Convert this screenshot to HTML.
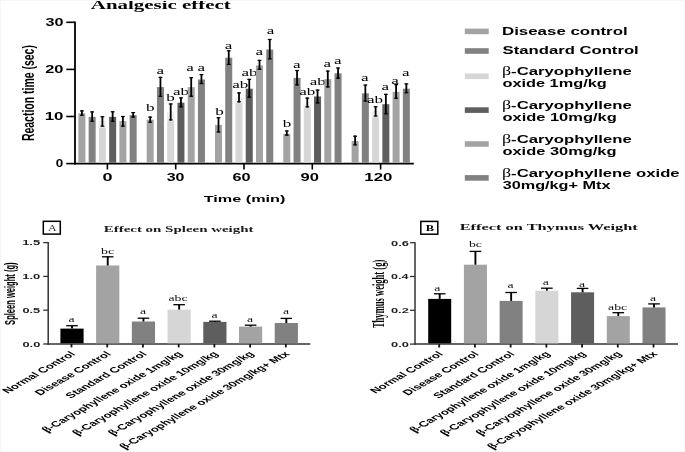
<!DOCTYPE html>
<html><head><meta charset="utf-8"><style>
html,body{margin:0;padding:0;background:#fff;}
svg{display:block;filter:blur(0.35px);}
</style></head><body>
<svg width="685" height="452" viewBox="0 0 685 452">
<rect x="0" y="0" width="685" height="452" fill="#fff"/>
<line x1="75.00" y1="21.50" x2="75.00" y2="164.50" stroke="#000" stroke-width="1.8"/>
<line x1="74.10" y1="163.60" x2="413.80" y2="163.60" stroke="#000" stroke-width="1.8"/>
<line x1="66.30" y1="163.60" x2="75.00" y2="163.60" stroke="#000" stroke-width="1.6"/>
<line x1="66.30" y1="116.50" x2="75.00" y2="116.50" stroke="#000" stroke-width="1.6"/>
<line x1="66.30" y1="69.40" x2="75.00" y2="69.40" stroke="#000" stroke-width="1.6"/>
<line x1="66.30" y1="22.30" x2="75.00" y2="22.30" stroke="#000" stroke-width="1.6"/>
<text x="55.86" y="167.40" font-family='"Liberation Sans", sans-serif' font-weight="bold" font-size="10.04" textLength="7.49" lengthAdjust="spacingAndGlyphs" fill="#000">0</text>
<text x="44.75" y="120.30" font-family='"Liberation Sans", sans-serif' font-weight="bold" font-size="10.04" textLength="18.77" lengthAdjust="spacingAndGlyphs" fill="#000">10</text>
<text x="45.23" y="73.20" font-family='"Liberation Sans", sans-serif' font-weight="bold" font-size="10.04" textLength="18.27" lengthAdjust="spacingAndGlyphs" fill="#000">20</text>
<text x="45.43" y="26.10" font-family='"Liberation Sans", sans-serif' font-weight="bold" font-size="10.04" textLength="18.05" lengthAdjust="spacingAndGlyphs" fill="#000">30</text>
<line x1="107.40" y1="163.60" x2="107.40" y2="169.50" stroke="#000" stroke-width="1.6"/>
<text x="102.58" y="181.20" font-family='"Liberation Sans", sans-serif' font-weight="bold" font-size="10.04" textLength="10.07" lengthAdjust="spacingAndGlyphs" fill="#000">0</text>
<line x1="175.70" y1="163.60" x2="175.70" y2="169.50" stroke="#000" stroke-width="1.6"/>
<text x="166.74" y="181.20" font-family='"Liberation Sans", sans-serif' font-weight="bold" font-size="10.04" textLength="17.73" lengthAdjust="spacingAndGlyphs" fill="#000">30</text>
<line x1="244.00" y1="163.60" x2="244.00" y2="169.50" stroke="#000" stroke-width="1.6"/>
<text x="232.49" y="181.20" font-family='"Liberation Sans", sans-serif' font-weight="bold" font-size="10.04" textLength="18.10" lengthAdjust="spacingAndGlyphs" fill="#000">60</text>
<line x1="312.30" y1="163.60" x2="312.30" y2="169.50" stroke="#000" stroke-width="1.6"/>
<text x="300.62" y="181.20" font-family='"Liberation Sans", sans-serif' font-weight="bold" font-size="10.04" textLength="18.38" lengthAdjust="spacingAndGlyphs" fill="#000">90</text>
<line x1="380.60" y1="163.60" x2="380.60" y2="169.50" stroke="#000" stroke-width="1.6"/>
<text x="364.35" y="181.20" font-family='"Liberation Sans", sans-serif' font-weight="bold" font-size="10.04" textLength="28.04" lengthAdjust="spacingAndGlyphs" fill="#000">120</text>
<text x="203.74" y="201.90" font-family='"Liberation Sans", sans-serif' font-weight="bold" font-size="9.66" textLength="81.68" lengthAdjust="spacingAndGlyphs" fill="#000">Time (min)</text>
<text x="90.89" y="9.10" font-family='"Liberation Serif", serif' font-weight="bold" font-size="11.63" textLength="139.89" lengthAdjust="spacingAndGlyphs" fill="#000">Analgesic effect</text>
<text transform="translate(34.40,141.10) scale(1.58,1) rotate(-90)" text-anchor="start" font-family='"Liberation Sans", sans-serif' font-weight="bold" font-size="10.50" textLength="96.00" lengthAdjust="spacingAndGlyphs" fill="#000">Reaction time (sec)</text>
<rect x="78.40" y="113.30" width="7.00" height="49.40" fill="#a3a3a3"/>
<line x1="81.90" y1="110.30" x2="81.90" y2="115.90" stroke="#000" stroke-width="1.8"/>
<line x1="80.00" y1="110.90" x2="83.80" y2="110.90" stroke="#000" stroke-width="1.2"/>
<line x1="80.00" y1="115.30" x2="83.80" y2="115.30" stroke="#000" stroke-width="1.2"/>
<rect x="88.65" y="116.90" width="7.00" height="45.80" fill="#818181"/>
<line x1="92.15" y1="111.30" x2="92.15" y2="121.90" stroke="#000" stroke-width="1.8"/>
<line x1="90.25" y1="111.90" x2="94.05" y2="111.90" stroke="#000" stroke-width="1.2"/>
<line x1="90.25" y1="121.30" x2="94.05" y2="121.30" stroke="#000" stroke-width="1.2"/>
<rect x="98.90" y="121.20" width="7.00" height="41.50" fill="#d6d6d6"/>
<rect x="98.90" y="121.20" width="7.00" height="6.30" fill="#f1f1f1"/>
<line x1="102.40" y1="116.10" x2="102.40" y2="126.70" stroke="#000" stroke-width="1.8"/>
<line x1="100.50" y1="116.70" x2="104.30" y2="116.70" stroke="#000" stroke-width="1.2"/>
<line x1="100.50" y1="126.10" x2="104.30" y2="126.10" stroke="#000" stroke-width="1.2"/>
<rect x="109.15" y="116.90" width="7.00" height="45.80" fill="#5e5e5e"/>
<line x1="112.65" y1="111.20" x2="112.65" y2="121.90" stroke="#000" stroke-width="1.8"/>
<line x1="110.75" y1="111.80" x2="114.55" y2="111.80" stroke="#000" stroke-width="1.2"/>
<line x1="110.75" y1="121.30" x2="114.55" y2="121.30" stroke="#000" stroke-width="1.2"/>
<rect x="119.40" y="121.10" width="7.00" height="41.60" fill="#a3a3a3"/>
<line x1="122.90" y1="115.90" x2="122.90" y2="126.70" stroke="#000" stroke-width="1.8"/>
<line x1="121.00" y1="116.50" x2="124.80" y2="116.50" stroke="#000" stroke-width="1.2"/>
<line x1="121.00" y1="126.10" x2="124.80" y2="126.10" stroke="#000" stroke-width="1.2"/>
<rect x="129.65" y="115.10" width="7.00" height="47.60" fill="#818181"/>
<line x1="133.15" y1="112.00" x2="133.15" y2="117.60" stroke="#000" stroke-width="1.8"/>
<line x1="131.25" y1="112.60" x2="135.05" y2="112.60" stroke="#000" stroke-width="1.2"/>
<line x1="131.25" y1="117.00" x2="135.05" y2="117.00" stroke="#000" stroke-width="1.2"/>
<rect x="146.70" y="119.70" width="7.00" height="43.00" fill="#a3a3a3"/>
<line x1="150.20" y1="116.50" x2="150.20" y2="122.80" stroke="#000" stroke-width="1.8"/>
<line x1="148.30" y1="117.10" x2="152.10" y2="117.10" stroke="#000" stroke-width="1.2"/>
<line x1="148.30" y1="122.20" x2="152.10" y2="122.20" stroke="#000" stroke-width="1.2"/>
<text x="146.07" y="111.30" font-family='"Liberation Serif", serif' font-weight="normal" font-size="10.00" textLength="8.50" lengthAdjust="spacingAndGlyphs" fill="#000">b</text>
<rect x="156.95" y="87.10" width="7.00" height="75.60" fill="#818181"/>
<line x1="160.45" y1="76.80" x2="160.45" y2="96.90" stroke="#000" stroke-width="1.8"/>
<line x1="158.55" y1="77.40" x2="162.35" y2="77.40" stroke="#000" stroke-width="1.2"/>
<line x1="158.55" y1="96.30" x2="162.35" y2="96.30" stroke="#000" stroke-width="1.2"/>
<text x="156.55" y="74.10" font-family='"Liberation Serif", serif' font-weight="normal" font-size="10.00" textLength="7.55" lengthAdjust="spacingAndGlyphs" fill="#000">a</text>
<rect x="167.20" y="112.00" width="7.00" height="50.70" fill="#d6d6d6"/>
<rect x="167.20" y="112.00" width="7.00" height="9.30" fill="#f1f1f1"/>
<line x1="170.70" y1="103.40" x2="170.70" y2="120.50" stroke="#000" stroke-width="1.8"/>
<line x1="168.80" y1="104.00" x2="172.60" y2="104.00" stroke="#000" stroke-width="1.2"/>
<line x1="168.80" y1="119.90" x2="172.60" y2="119.90" stroke="#000" stroke-width="1.2"/>
<text x="166.17" y="100.70" font-family='"Liberation Serif", serif' font-weight="normal" font-size="10.00" textLength="8.50" lengthAdjust="spacingAndGlyphs" fill="#000">b</text>
<rect x="177.45" y="102.70" width="7.00" height="60.00" fill="#5e5e5e"/>
<line x1="180.95" y1="97.30" x2="180.95" y2="107.40" stroke="#000" stroke-width="1.8"/>
<line x1="179.05" y1="97.90" x2="182.85" y2="97.90" stroke="#000" stroke-width="1.2"/>
<line x1="179.05" y1="106.80" x2="182.85" y2="106.80" stroke="#000" stroke-width="1.2"/>
<text x="173.09" y="94.70" font-family='"Liberation Serif", serif' font-weight="normal" font-size="10.00" textLength="16.05" lengthAdjust="spacingAndGlyphs" fill="#000">ab</text>
<rect x="187.70" y="87.20" width="7.00" height="75.50" fill="#a3a3a3"/>
<line x1="191.20" y1="77.10" x2="191.20" y2="96.80" stroke="#000" stroke-width="1.8"/>
<line x1="189.30" y1="77.70" x2="193.10" y2="77.70" stroke="#000" stroke-width="1.2"/>
<line x1="189.30" y1="96.20" x2="193.10" y2="96.20" stroke="#000" stroke-width="1.2"/>
<text x="186.25" y="70.60" font-family='"Liberation Serif", serif' font-weight="normal" font-size="10.00" textLength="7.55" lengthAdjust="spacingAndGlyphs" fill="#000">a</text>
<rect x="197.95" y="79.50" width="7.00" height="83.20" fill="#818181"/>
<line x1="201.45" y1="74.00" x2="201.45" y2="84.10" stroke="#000" stroke-width="1.8"/>
<line x1="199.55" y1="74.60" x2="203.35" y2="74.60" stroke="#000" stroke-width="1.2"/>
<line x1="199.55" y1="83.50" x2="203.35" y2="83.50" stroke="#000" stroke-width="1.2"/>
<text x="197.55" y="70.70" font-family='"Liberation Serif", serif' font-weight="normal" font-size="10.00" textLength="7.55" lengthAdjust="spacingAndGlyphs" fill="#000">a</text>
<rect x="215.00" y="124.90" width="7.00" height="37.80" fill="#a3a3a3"/>
<line x1="218.50" y1="117.10" x2="218.50" y2="132.60" stroke="#000" stroke-width="1.8"/>
<line x1="216.60" y1="117.70" x2="220.40" y2="117.70" stroke="#000" stroke-width="1.2"/>
<line x1="216.60" y1="132.00" x2="220.40" y2="132.00" stroke="#000" stroke-width="1.2"/>
<text x="215.27" y="114.80" font-family='"Liberation Serif", serif' font-weight="normal" font-size="10.00" textLength="8.50" lengthAdjust="spacingAndGlyphs" fill="#000">b</text>
<rect x="225.25" y="57.70" width="7.00" height="105.00" fill="#818181"/>
<line x1="228.75" y1="50.20" x2="228.75" y2="65.00" stroke="#000" stroke-width="1.8"/>
<line x1="226.85" y1="50.80" x2="230.65" y2="50.80" stroke="#000" stroke-width="1.2"/>
<line x1="226.85" y1="64.40" x2="230.65" y2="64.40" stroke="#000" stroke-width="1.2"/>
<text x="224.65" y="48.70" font-family='"Liberation Serif", serif' font-weight="normal" font-size="10.00" textLength="7.55" lengthAdjust="spacingAndGlyphs" fill="#000">a</text>
<rect x="235.50" y="97.80" width="7.00" height="64.90" fill="#d6d6d6"/>
<rect x="235.50" y="97.80" width="7.00" height="5.40" fill="#f1f1f1"/>
<line x1="239.00" y1="92.30" x2="239.00" y2="102.40" stroke="#000" stroke-width="1.8"/>
<line x1="237.10" y1="92.90" x2="240.90" y2="92.90" stroke="#000" stroke-width="1.2"/>
<line x1="237.10" y1="101.80" x2="240.90" y2="101.80" stroke="#000" stroke-width="1.2"/>
<text x="232.19" y="88.40" font-family='"Liberation Serif", serif' font-weight="normal" font-size="10.00" textLength="16.05" lengthAdjust="spacingAndGlyphs" fill="#000">ab</text>
<rect x="245.75" y="88.70" width="7.00" height="74.00" fill="#5e5e5e"/>
<line x1="249.25" y1="78.80" x2="249.25" y2="97.70" stroke="#000" stroke-width="1.8"/>
<line x1="247.35" y1="79.40" x2="251.15" y2="79.40" stroke="#000" stroke-width="1.2"/>
<line x1="247.35" y1="97.10" x2="251.15" y2="97.10" stroke="#000" stroke-width="1.2"/>
<text x="241.59" y="75.90" font-family='"Liberation Serif", serif' font-weight="normal" font-size="10.00" textLength="16.05" lengthAdjust="spacingAndGlyphs" fill="#000">ab</text>
<rect x="256.00" y="65.40" width="7.00" height="97.30" fill="#a3a3a3"/>
<line x1="259.50" y1="59.80" x2="259.50" y2="69.80" stroke="#000" stroke-width="1.8"/>
<line x1="257.60" y1="60.40" x2="261.40" y2="60.40" stroke="#000" stroke-width="1.2"/>
<line x1="257.60" y1="69.20" x2="261.40" y2="69.20" stroke="#000" stroke-width="1.2"/>
<text x="255.55" y="55.20" font-family='"Liberation Serif", serif' font-weight="normal" font-size="10.00" textLength="7.55" lengthAdjust="spacingAndGlyphs" fill="#000">a</text>
<rect x="266.25" y="49.50" width="7.00" height="113.20" fill="#818181"/>
<line x1="269.75" y1="38.90" x2="269.75" y2="59.40" stroke="#000" stroke-width="1.8"/>
<line x1="267.85" y1="39.50" x2="271.65" y2="39.50" stroke="#000" stroke-width="1.2"/>
<line x1="267.85" y1="58.80" x2="271.65" y2="58.80" stroke="#000" stroke-width="1.2"/>
<text x="266.85" y="33.70" font-family='"Liberation Serif", serif' font-weight="normal" font-size="10.00" textLength="7.55" lengthAdjust="spacingAndGlyphs" fill="#000">a</text>
<rect x="283.30" y="133.90" width="7.00" height="28.80" fill="#a3a3a3"/>
<line x1="286.80" y1="130.40" x2="286.80" y2="135.70" stroke="#000" stroke-width="1.8"/>
<line x1="284.90" y1="131.00" x2="288.70" y2="131.00" stroke="#000" stroke-width="1.2"/>
<line x1="284.90" y1="135.10" x2="288.70" y2="135.10" stroke="#000" stroke-width="1.2"/>
<text x="282.87" y="127.20" font-family='"Liberation Serif", serif' font-weight="normal" font-size="10.00" textLength="8.50" lengthAdjust="spacingAndGlyphs" fill="#000">b</text>
<rect x="293.55" y="77.90" width="7.00" height="84.80" fill="#818181"/>
<line x1="297.05" y1="69.90" x2="297.05" y2="85.40" stroke="#000" stroke-width="1.8"/>
<line x1="295.15" y1="70.50" x2="298.95" y2="70.50" stroke="#000" stroke-width="1.2"/>
<line x1="295.15" y1="84.80" x2="298.95" y2="84.80" stroke="#000" stroke-width="1.2"/>
<text x="292.95" y="67.60" font-family='"Liberation Serif", serif' font-weight="normal" font-size="10.00" textLength="7.55" lengthAdjust="spacingAndGlyphs" fill="#000">a</text>
<rect x="303.80" y="104.00" width="7.00" height="58.70" fill="#d6d6d6"/>
<rect x="303.80" y="104.00" width="7.00" height="4.30" fill="#f1f1f1"/>
<line x1="307.30" y1="97.50" x2="307.30" y2="107.50" stroke="#000" stroke-width="1.8"/>
<line x1="305.40" y1="98.10" x2="309.20" y2="98.10" stroke="#000" stroke-width="1.2"/>
<line x1="305.40" y1="106.90" x2="309.20" y2="106.90" stroke="#000" stroke-width="1.2"/>
<text x="299.29" y="95.10" font-family='"Liberation Serif", serif' font-weight="normal" font-size="10.00" textLength="16.05" lengthAdjust="spacingAndGlyphs" fill="#000">ab</text>
<rect x="314.05" y="96.50" width="7.00" height="66.20" fill="#5e5e5e"/>
<line x1="317.55" y1="89.50" x2="317.55" y2="103.50" stroke="#000" stroke-width="1.8"/>
<line x1="315.65" y1="90.10" x2="319.45" y2="90.10" stroke="#000" stroke-width="1.2"/>
<line x1="315.65" y1="102.90" x2="319.45" y2="102.90" stroke="#000" stroke-width="1.2"/>
<text x="309.79" y="84.60" font-family='"Liberation Serif", serif' font-weight="normal" font-size="10.00" textLength="16.05" lengthAdjust="spacingAndGlyphs" fill="#000">ab</text>
<rect x="324.30" y="79.10" width="7.00" height="83.60" fill="#a3a3a3"/>
<line x1="327.80" y1="70.50" x2="327.80" y2="87.50" stroke="#000" stroke-width="1.8"/>
<line x1="325.90" y1="71.10" x2="329.70" y2="71.10" stroke="#000" stroke-width="1.2"/>
<line x1="325.90" y1="86.90" x2="329.70" y2="86.90" stroke="#000" stroke-width="1.2"/>
<text x="323.55" y="67.10" font-family='"Liberation Serif", serif' font-weight="normal" font-size="10.00" textLength="7.55" lengthAdjust="spacingAndGlyphs" fill="#000">a</text>
<rect x="334.55" y="73.30" width="7.00" height="89.40" fill="#818181"/>
<line x1="338.05" y1="67.40" x2="338.05" y2="78.70" stroke="#000" stroke-width="1.8"/>
<line x1="336.15" y1="68.00" x2="339.95" y2="68.00" stroke="#000" stroke-width="1.2"/>
<line x1="336.15" y1="78.10" x2="339.95" y2="78.10" stroke="#000" stroke-width="1.2"/>
<text x="333.95" y="64.40" font-family='"Liberation Serif", serif' font-weight="normal" font-size="10.00" textLength="7.55" lengthAdjust="spacingAndGlyphs" fill="#000">a</text>
<rect x="351.60" y="141.00" width="7.00" height="21.70" fill="#a3a3a3"/>
<line x1="355.10" y1="135.60" x2="355.10" y2="145.40" stroke="#000" stroke-width="1.8"/>
<line x1="353.20" y1="136.20" x2="357.00" y2="136.20" stroke="#000" stroke-width="1.2"/>
<line x1="353.20" y1="144.80" x2="357.00" y2="144.80" stroke="#000" stroke-width="1.2"/>
<rect x="361.85" y="93.30" width="7.00" height="69.40" fill="#818181"/>
<line x1="365.35" y1="84.50" x2="365.35" y2="101.60" stroke="#000" stroke-width="1.8"/>
<line x1="363.45" y1="85.10" x2="367.25" y2="85.10" stroke="#000" stroke-width="1.2"/>
<line x1="363.45" y1="101.00" x2="367.25" y2="101.00" stroke="#000" stroke-width="1.2"/>
<text x="361.05" y="81.10" font-family='"Liberation Serif", serif' font-weight="normal" font-size="10.00" textLength="7.55" lengthAdjust="spacingAndGlyphs" fill="#000">a</text>
<rect x="372.10" y="111.20" width="7.00" height="51.50" fill="#d6d6d6"/>
<rect x="372.10" y="111.20" width="7.00" height="6.20" fill="#f1f1f1"/>
<line x1="375.60" y1="106.20" x2="375.60" y2="116.60" stroke="#000" stroke-width="1.8"/>
<line x1="373.70" y1="106.80" x2="377.50" y2="106.80" stroke="#000" stroke-width="1.2"/>
<line x1="373.70" y1="116.00" x2="377.50" y2="116.00" stroke="#000" stroke-width="1.2"/>
<text x="366.99" y="103.10" font-family='"Liberation Serif", serif' font-weight="normal" font-size="10.00" textLength="16.05" lengthAdjust="spacingAndGlyphs" fill="#000">ab</text>
<rect x="382.35" y="104.20" width="7.00" height="58.50" fill="#5e5e5e"/>
<line x1="385.85" y1="93.80" x2="385.85" y2="114.30" stroke="#000" stroke-width="1.8"/>
<line x1="383.95" y1="94.40" x2="387.75" y2="94.40" stroke="#000" stroke-width="1.2"/>
<line x1="383.95" y1="113.70" x2="387.75" y2="113.70" stroke="#000" stroke-width="1.2"/>
<text x="381.55" y="89.50" font-family='"Liberation Serif", serif' font-weight="normal" font-size="10.00" textLength="7.55" lengthAdjust="spacingAndGlyphs" fill="#000">a</text>
<rect x="392.60" y="91.80" width="7.00" height="70.90" fill="#a3a3a3"/>
<line x1="396.10" y1="84.00" x2="396.10" y2="98.80" stroke="#000" stroke-width="1.8"/>
<line x1="394.20" y1="84.60" x2="398.00" y2="84.60" stroke="#000" stroke-width="1.2"/>
<line x1="394.20" y1="98.20" x2="398.00" y2="98.20" stroke="#000" stroke-width="1.2"/>
<text x="391.25" y="83.70" font-family='"Liberation Serif", serif' font-weight="normal" font-size="10.00" textLength="7.55" lengthAdjust="spacingAndGlyphs" fill="#000">a</text>
<rect x="402.85" y="88.70" width="7.00" height="74.00" fill="#818181"/>
<line x1="406.35" y1="83.30" x2="406.35" y2="93.30" stroke="#000" stroke-width="1.8"/>
<line x1="404.45" y1="83.90" x2="408.25" y2="83.90" stroke="#000" stroke-width="1.2"/>
<line x1="404.45" y1="92.70" x2="408.25" y2="92.70" stroke="#000" stroke-width="1.2"/>
<text x="402.05" y="76.40" font-family='"Liberation Serif", serif' font-weight="normal" font-size="10.00" textLength="7.55" lengthAdjust="spacingAndGlyphs" fill="#000">a</text>
<rect x="464.80" y="28.60" width="23.90" height="5.60" fill="#a3a3a3"/>
<rect x="464.80" y="48.20" width="23.90" height="5.60" fill="#818181"/>
<rect x="464.80" y="73.50" width="23.90" height="5.60" fill="#d6d6d6"/>
<rect x="464.80" y="107.30" width="23.90" height="5.60" fill="#5e5e5e"/>
<rect x="464.80" y="141.20" width="23.90" height="5.60" fill="#a3a3a3"/>
<rect x="464.80" y="175.10" width="23.90" height="5.60" fill="#818181"/>
<text x="501.96" y="35.00" font-family='"Liberation Sans", sans-serif' font-weight="bold" font-size="10.90" textLength="125.72" lengthAdjust="spacingAndGlyphs" fill="#000">Disease control</text>
<text x="502.60" y="54.40" font-family='"Liberation Sans", sans-serif' font-weight="bold" font-size="10.90" textLength="136.15" lengthAdjust="spacingAndGlyphs" fill="#000">Standard Control</text>
<text x="501.94" y="75.30" font-family='"Liberation Sans", sans-serif' font-weight="bold" font-size="10.90" textLength="129.84" lengthAdjust="spacingAndGlyphs" fill="#000"><tspan font-family='"Liberation Serif", serif' font-weight="normal" font-size="108%">β</tspan>-Caryophyllene</text>
<text x="502.45" y="86.80" font-family='"Liberation Sans", sans-serif' font-weight="bold" font-size="10.90" textLength="104.33" lengthAdjust="spacingAndGlyphs" fill="#000">oxide 1mg/kg</text>
<text x="501.94" y="109.20" font-family='"Liberation Sans", sans-serif' font-weight="bold" font-size="10.90" textLength="129.84" lengthAdjust="spacingAndGlyphs" fill="#000"><tspan font-family='"Liberation Serif", serif' font-weight="normal" font-size="108%">β</tspan>-Caryophyllene</text>
<text x="502.44" y="120.70" font-family='"Liberation Sans", sans-serif' font-weight="bold" font-size="10.90" textLength="114.26" lengthAdjust="spacingAndGlyphs" fill="#000">oxide 10mg/kg</text>
<text x="501.94" y="143.10" font-family='"Liberation Sans", sans-serif' font-weight="bold" font-size="10.90" textLength="129.84" lengthAdjust="spacingAndGlyphs" fill="#000"><tspan font-family='"Liberation Serif", serif' font-weight="normal" font-size="108%">β</tspan>-Caryophyllene</text>
<text x="502.44" y="154.60" font-family='"Liberation Sans", sans-serif' font-weight="bold" font-size="10.90" textLength="114.06" lengthAdjust="spacingAndGlyphs" fill="#000">oxide 30mg/kg</text>
<text x="501.94" y="177.00" font-family='"Liberation Sans", sans-serif' font-weight="bold" font-size="10.90" textLength="177.73" lengthAdjust="spacingAndGlyphs" fill="#000"><tspan font-family='"Liberation Serif", serif' font-weight="normal" font-size="108%">β</tspan>-Caryophyllene oxide</text>
<text x="502.74" y="188.50" font-family='"Liberation Sans", sans-serif' font-weight="bold" font-size="10.90" textLength="107.71" lengthAdjust="spacingAndGlyphs" fill="#000">30mg/kg+ Mtx</text>
<line x1="48.20" y1="242.10" x2="48.20" y2="344.75" stroke="#333" stroke-width="1.5"/>
<line x1="47.45" y1="344.00" x2="310.30" y2="344.00" stroke="#333" stroke-width="1.5"/>
<line x1="43.20" y1="344.00" x2="48.20" y2="344.00" stroke="#333" stroke-width="1.3"/>
<text x="22.49" y="346.80" font-family='"Liberation Sans", sans-serif' font-weight="bold" font-size="7.17" textLength="17.83" lengthAdjust="spacingAndGlyphs" fill="#1e1e1e">0.0</text>
<line x1="43.20" y1="310.20" x2="48.20" y2="310.20" stroke="#333" stroke-width="1.3"/>
<text x="22.49" y="313.00" font-family='"Liberation Sans", sans-serif' font-weight="bold" font-size="7.17" textLength="17.66" lengthAdjust="spacingAndGlyphs" fill="#1e1e1e">0.5</text>
<line x1="43.20" y1="276.40" x2="48.20" y2="276.40" stroke="#333" stroke-width="1.3"/>
<text x="22.18" y="279.20" font-family='"Liberation Sans", sans-serif' font-weight="bold" font-size="7.17" textLength="18.14" lengthAdjust="spacingAndGlyphs" fill="#1e1e1e">1.0</text>
<line x1="43.20" y1="242.60" x2="48.20" y2="242.60" stroke="#333" stroke-width="1.3"/>
<text x="22.19" y="245.40" font-family='"Liberation Sans", sans-serif' font-weight="bold" font-size="7.27" textLength="17.97" lengthAdjust="spacingAndGlyphs" fill="#1e1e1e">1.5</text>
<rect x="60.40" y="328.60" width="23.20" height="14.65" fill="#000"/>
<line x1="72.00" y1="325.50" x2="72.00" y2="328.60" stroke="#000" stroke-width="1.9"/>
<line x1="66.20" y1="325.70" x2="77.80" y2="325.70" stroke="#000" stroke-width="1.3"/>
<line x1="71.50" y1="344.00" x2="71.50" y2="347.40" stroke="#111" stroke-width="1.8"/>
<text x="68.50" y="321.60" font-family='"Liberation Serif", serif' font-weight="normal" font-size="8.00" textLength="6.11" lengthAdjust="spacingAndGlyphs" fill="#111">a</text>
<rect x="96.12" y="265.50" width="23.20" height="77.75" fill="#a3a3a3"/>
<line x1="107.72" y1="256.60" x2="107.72" y2="265.50" stroke="#000" stroke-width="1.9"/>
<line x1="101.92" y1="256.80" x2="113.52" y2="256.80" stroke="#000" stroke-width="1.3"/>
<line x1="107.22" y1="344.00" x2="107.22" y2="347.40" stroke="#111" stroke-width="1.8"/>
<text x="101.12" y="254.10" font-family='"Liberation Serif", serif' font-weight="normal" font-size="8.00" textLength="12.99" lengthAdjust="spacingAndGlyphs" fill="#111">bc</text>
<rect x="131.84" y="321.50" width="23.20" height="21.75" fill="#818181"/>
<line x1="143.44" y1="318.00" x2="143.44" y2="321.50" stroke="#000" stroke-width="1.9"/>
<line x1="137.64" y1="318.20" x2="149.24" y2="318.20" stroke="#000" stroke-width="1.3"/>
<line x1="142.94" y1="344.00" x2="142.94" y2="347.40" stroke="#111" stroke-width="1.8"/>
<text x="140.00" y="314.40" font-family='"Liberation Serif", serif' font-weight="normal" font-size="8.00" textLength="6.11" lengthAdjust="spacingAndGlyphs" fill="#111">a</text>
<rect x="167.56" y="309.60" width="23.20" height="33.65" fill="#d6d6d6"/>
<line x1="179.16" y1="304.50" x2="179.16" y2="309.60" stroke="#000" stroke-width="1.9"/>
<line x1="173.36" y1="304.70" x2="184.96" y2="304.70" stroke="#000" stroke-width="1.3"/>
<line x1="178.66" y1="344.00" x2="178.66" y2="347.40" stroke="#111" stroke-width="1.8"/>
<text x="168.52" y="301.20" font-family='"Liberation Serif", serif' font-weight="normal" font-size="8.00" textLength="19.10" lengthAdjust="spacingAndGlyphs" fill="#111">abc</text>
<rect x="203.28" y="321.90" width="23.20" height="21.35" fill="#5e5e5e"/>
<line x1="214.88" y1="321.00" x2="214.88" y2="321.90" stroke="#000" stroke-width="1.9"/>
<line x1="209.08" y1="321.20" x2="220.68" y2="321.20" stroke="#000" stroke-width="1.3"/>
<line x1="214.38" y1="344.00" x2="214.38" y2="347.40" stroke="#111" stroke-width="1.8"/>
<text x="211.60" y="318.10" font-family='"Liberation Serif", serif' font-weight="normal" font-size="8.00" textLength="6.11" lengthAdjust="spacingAndGlyphs" fill="#111">a</text>
<rect x="239.00" y="326.60" width="23.20" height="16.65" fill="#a3a3a3"/>
<line x1="250.60" y1="325.00" x2="250.60" y2="326.60" stroke="#000" stroke-width="1.9"/>
<line x1="244.80" y1="325.20" x2="256.40" y2="325.20" stroke="#000" stroke-width="1.3"/>
<line x1="250.10" y1="344.00" x2="250.10" y2="347.40" stroke="#111" stroke-width="1.8"/>
<text x="247.10" y="321.60" font-family='"Liberation Serif", serif' font-weight="normal" font-size="8.00" textLength="6.11" lengthAdjust="spacingAndGlyphs" fill="#111">a</text>
<rect x="274.72" y="323.00" width="23.20" height="20.25" fill="#818181"/>
<line x1="286.32" y1="318.20" x2="286.32" y2="323.00" stroke="#000" stroke-width="1.9"/>
<line x1="280.52" y1="318.40" x2="292.12" y2="318.40" stroke="#000" stroke-width="1.3"/>
<line x1="285.82" y1="344.00" x2="285.82" y2="347.40" stroke="#111" stroke-width="1.8"/>
<text x="283.10" y="314.10" font-family='"Liberation Serif", serif' font-weight="normal" font-size="8.00" textLength="6.11" lengthAdjust="spacingAndGlyphs" fill="#111">a</text>
<text transform="translate(76.20,354.50) scale(1.74,1) rotate(-45)" text-anchor="end" font-family='"Liberation Sans", sans-serif' font-weight="bold" font-size="7.65" fill="#000">Normal Control</text>
<text transform="translate(111.92,354.50) scale(1.74,1) rotate(-45)" text-anchor="end" font-family='"Liberation Sans", sans-serif' font-weight="bold" font-size="7.65" fill="#000">Disease Control</text>
<text transform="translate(147.64,354.50) scale(1.74,1) rotate(-45)" text-anchor="end" font-family='"Liberation Sans", sans-serif' font-weight="bold" font-size="7.65" fill="#000">Standard Control</text>
<text transform="translate(183.36,354.50) scale(1.74,1) rotate(-45)" text-anchor="end" font-family='"Liberation Sans", sans-serif' font-weight="bold" font-size="7.65" fill="#000"><tspan font-family='"Liberation Serif", serif' font-weight="bold" font-size="108%">β</tspan>-Caryophyllene oxide 1mg/kg</text>
<text transform="translate(219.08,354.50) scale(1.74,1) rotate(-45)" text-anchor="end" font-family='"Liberation Sans", sans-serif' font-weight="bold" font-size="7.65" fill="#000"><tspan font-family='"Liberation Serif", serif' font-weight="bold" font-size="108%">β</tspan>-Caryophyllene oxide 10mg/kg</text>
<text transform="translate(254.80,354.50) scale(1.74,1) rotate(-45)" text-anchor="end" font-family='"Liberation Sans", sans-serif' font-weight="bold" font-size="7.65" fill="#000"><tspan font-family='"Liberation Serif", serif' font-weight="bold" font-size="108%">β</tspan>-Caryophyllene oxide 30mg/kg</text>
<text transform="translate(290.52,354.50) scale(1.74,1) rotate(-45)" text-anchor="end" font-family='"Liberation Sans", sans-serif' font-weight="bold" font-size="7.65" fill="#000"><tspan font-family='"Liberation Serif", serif' font-weight="bold" font-size="108%">β</tspan>-Caryophyllene oxide 30mg/kg+ Mtx</text>
<rect x="43.3" y="221.3" width="17" height="12.8" fill="none" stroke="#000" stroke-width="1.5"/>
<text x="47.98" y="230.80" font-family='"Liberation Serif", serif' font-weight="normal" font-size="7.88" textLength="8.71" lengthAdjust="spacingAndGlyphs" fill="#333">A</text>
<text x="103.74" y="232.30" font-family='"Liberation Serif", serif' font-weight="bold" font-size="7.66" textLength="149.79" lengthAdjust="spacingAndGlyphs" fill="#1a1a1a">Effect on Spleen weight</text>
<text transform="translate(15.30,324.90) scale(1.75,1) rotate(-90)" text-anchor="start" font-family='"Liberation Sans", sans-serif' font-weight="bold" font-size="8.00" textLength="62.50" lengthAdjust="spacingAndGlyphs" fill="#000">Spleen weight (g)</text>
<line x1="415.00" y1="242.20" x2="415.00" y2="344.85" stroke="#333" stroke-width="1.5"/>
<line x1="414.25" y1="344.10" x2="678.00" y2="344.10" stroke="#333" stroke-width="1.5"/>
<line x1="410.00" y1="344.10" x2="415.00" y2="344.10" stroke="#333" stroke-width="1.3"/>
<text x="390.98" y="346.90" font-family='"Liberation Sans", sans-serif' font-weight="bold" font-size="7.17" textLength="17.93" lengthAdjust="spacingAndGlyphs" fill="#1e1e1e">0.0</text>
<line x1="410.00" y1="310.30" x2="415.00" y2="310.30" stroke="#333" stroke-width="1.3"/>
<text x="390.98" y="313.10" font-family='"Liberation Sans", sans-serif' font-weight="bold" font-size="7.17" textLength="17.90" lengthAdjust="spacingAndGlyphs" fill="#1e1e1e">0.2</text>
<line x1="410.00" y1="276.50" x2="415.00" y2="276.50" stroke="#333" stroke-width="1.3"/>
<text x="391.00" y="279.30" font-family='"Liberation Sans", sans-serif' font-weight="bold" font-size="7.17" textLength="17.47" lengthAdjust="spacingAndGlyphs" fill="#1e1e1e">0.4</text>
<line x1="410.00" y1="242.70" x2="415.00" y2="242.70" stroke="#333" stroke-width="1.3"/>
<text x="390.99" y="245.50" font-family='"Liberation Sans", sans-serif' font-weight="bold" font-size="7.17" textLength="17.87" lengthAdjust="spacingAndGlyphs" fill="#1e1e1e">0.6</text>
<rect x="428.20" y="298.90" width="23.00" height="44.45" fill="#000"/>
<line x1="439.70" y1="293.60" x2="439.70" y2="298.90" stroke="#000" stroke-width="1.9"/>
<line x1="433.90" y1="293.80" x2="445.50" y2="293.80" stroke="#000" stroke-width="1.3"/>
<line x1="439.20" y1="344.10" x2="439.20" y2="347.50" stroke="#111" stroke-width="1.8"/>
<text x="434.20" y="291.30" font-family='"Liberation Serif", serif' font-weight="normal" font-size="8.00" textLength="6.11" lengthAdjust="spacingAndGlyphs" fill="#111">a</text>
<rect x="463.92" y="264.70" width="23.00" height="78.65" fill="#a3a3a3"/>
<line x1="475.42" y1="251.20" x2="475.42" y2="264.70" stroke="#000" stroke-width="1.9"/>
<line x1="469.62" y1="251.40" x2="481.22" y2="251.40" stroke="#000" stroke-width="1.3"/>
<line x1="474.92" y1="344.10" x2="474.92" y2="347.50" stroke="#111" stroke-width="1.8"/>
<text x="468.92" y="247.40" font-family='"Liberation Serif", serif' font-weight="normal" font-size="8.00" textLength="12.99" lengthAdjust="spacingAndGlyphs" fill="#111">bc</text>
<rect x="499.64" y="300.90" width="23.00" height="42.45" fill="#818181"/>
<line x1="511.14" y1="292.30" x2="511.14" y2="300.90" stroke="#000" stroke-width="1.9"/>
<line x1="505.34" y1="292.50" x2="516.94" y2="292.50" stroke="#000" stroke-width="1.3"/>
<line x1="510.64" y1="344.10" x2="510.64" y2="347.50" stroke="#111" stroke-width="1.8"/>
<text x="507.50" y="287.70" font-family='"Liberation Serif", serif' font-weight="normal" font-size="8.00" textLength="6.11" lengthAdjust="spacingAndGlyphs" fill="#111">a</text>
<rect x="535.36" y="290.70" width="23.00" height="52.65" fill="#d6d6d6"/>
<line x1="546.86" y1="288.00" x2="546.86" y2="290.70" stroke="#000" stroke-width="1.9"/>
<line x1="541.06" y1="288.20" x2="552.66" y2="288.20" stroke="#000" stroke-width="1.3"/>
<line x1="546.36" y1="344.10" x2="546.36" y2="347.50" stroke="#111" stroke-width="1.8"/>
<text x="542.80" y="285.20" font-family='"Liberation Serif", serif' font-weight="normal" font-size="8.00" textLength="6.11" lengthAdjust="spacingAndGlyphs" fill="#111">a</text>
<rect x="571.08" y="292.30" width="23.00" height="51.05" fill="#5e5e5e"/>
<line x1="582.58" y1="288.20" x2="582.58" y2="292.30" stroke="#000" stroke-width="1.9"/>
<line x1="576.78" y1="288.40" x2="588.38" y2="288.40" stroke="#000" stroke-width="1.3"/>
<line x1="582.08" y1="344.10" x2="582.08" y2="347.50" stroke="#111" stroke-width="1.8"/>
<text x="579.00" y="286.70" font-family='"Liberation Serif", serif' font-weight="normal" font-size="8.00" textLength="6.11" lengthAdjust="spacingAndGlyphs" fill="#111">a</text>
<rect x="606.80" y="316.10" width="23.00" height="27.25" fill="#a3a3a3"/>
<line x1="618.30" y1="312.50" x2="618.30" y2="316.10" stroke="#000" stroke-width="1.9"/>
<line x1="612.50" y1="312.70" x2="624.10" y2="312.70" stroke="#000" stroke-width="1.3"/>
<line x1="617.80" y1="344.10" x2="617.80" y2="347.50" stroke="#111" stroke-width="1.8"/>
<text x="608.12" y="310.20" font-family='"Liberation Serif", serif' font-weight="normal" font-size="8.00" textLength="19.10" lengthAdjust="spacingAndGlyphs" fill="#111">abc</text>
<rect x="642.52" y="307.40" width="23.00" height="35.95" fill="#818181"/>
<line x1="654.02" y1="303.70" x2="654.02" y2="307.40" stroke="#000" stroke-width="1.9"/>
<line x1="648.22" y1="303.90" x2="659.82" y2="303.90" stroke="#000" stroke-width="1.3"/>
<line x1="653.52" y1="344.10" x2="653.52" y2="347.50" stroke="#111" stroke-width="1.8"/>
<text x="650.00" y="300.60" font-family='"Liberation Serif", serif' font-weight="normal" font-size="8.00" textLength="6.11" lengthAdjust="spacingAndGlyphs" fill="#111">a</text>
<text transform="translate(443.90,354.50) scale(1.74,1) rotate(-45)" text-anchor="end" font-family='"Liberation Sans", sans-serif' font-weight="bold" font-size="7.65" fill="#000">Normal Control</text>
<text transform="translate(479.62,354.50) scale(1.74,1) rotate(-45)" text-anchor="end" font-family='"Liberation Sans", sans-serif' font-weight="bold" font-size="7.65" fill="#000">Disease Control</text>
<text transform="translate(515.34,354.50) scale(1.74,1) rotate(-45)" text-anchor="end" font-family='"Liberation Sans", sans-serif' font-weight="bold" font-size="7.65" fill="#000">Standard Control</text>
<text transform="translate(551.06,354.50) scale(1.74,1) rotate(-45)" text-anchor="end" font-family='"Liberation Sans", sans-serif' font-weight="bold" font-size="7.65" fill="#000"><tspan font-family='"Liberation Serif", serif' font-weight="bold" font-size="108%">β</tspan>-Caryophyllene oxide 1mg/kg</text>
<text transform="translate(586.78,354.50) scale(1.74,1) rotate(-45)" text-anchor="end" font-family='"Liberation Sans", sans-serif' font-weight="bold" font-size="7.65" fill="#000"><tspan font-family='"Liberation Serif", serif' font-weight="bold" font-size="108%">β</tspan>-Caryophyllene oxide 10mg/kg</text>
<text transform="translate(622.50,354.50) scale(1.74,1) rotate(-45)" text-anchor="end" font-family='"Liberation Sans", sans-serif' font-weight="bold" font-size="7.65" fill="#000"><tspan font-family='"Liberation Serif", serif' font-weight="bold" font-size="108%">β</tspan>-Caryophyllene oxide 30mg/kg</text>
<text transform="translate(658.22,354.50) scale(1.74,1) rotate(-45)" text-anchor="end" font-family='"Liberation Sans", sans-serif' font-weight="bold" font-size="7.65" fill="#000"><tspan font-family='"Liberation Serif", serif' font-weight="bold" font-size="108%">β</tspan>-Caryophyllene oxide 30mg/kg+ Mtx</text>
<rect x="420.8" y="221.4" width="17" height="12.8" fill="none" stroke="#000" stroke-width="1.5"/>
<text x="425.68" y="230.80" font-family='"Liberation Serif", serif' font-weight="bold" font-size="7.94" textLength="8.25" lengthAdjust="spacingAndGlyphs" fill="#000">B</text>
<text x="459.71" y="230.30" font-family='"Liberation Serif", serif' font-weight="bold" font-size="8.65" textLength="178.15" lengthAdjust="spacingAndGlyphs" fill="#111">Effect on Thymus Weight</text>
<text transform="translate(384.20,328.10) scale(1.85,1) rotate(-90)" text-anchor="start" font-family='"Liberation Serif", serif' font-weight="bold" font-size="8.60" textLength="68.40" lengthAdjust="spacingAndGlyphs" fill="#000">Thymus weight (g)</text>
<rect x="0.5" y="0.5" width="684" height="451" fill="none" stroke="#f6f6f6" stroke-width="1"/>
</svg>
</body></html>
